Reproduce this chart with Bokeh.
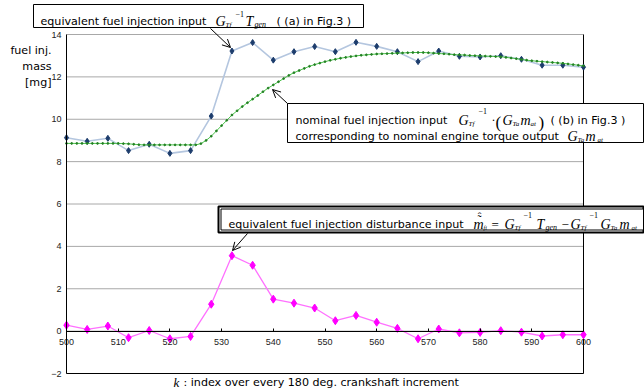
from bokeh.plotting import figure
from bokeh.models import Label, Arrow, OpenHead, BoxAnnotation, FixedTicker, Range1d
from bokeh.embed import file_html
from bokeh.resources import INLINE

# ---------------- data ----------------
k_sparse = list(range(500, 601, 4))
equiv_input = [9.13, 8.96, 9.10, 8.52, 8.82, 8.39, 8.52, 10.15, 13.22, 13.62, 12.79, 13.19, 13.43,
               13.19, 13.63, 13.44, 13.19, 12.72, 13.22, 12.97, 12.94, 13.00, 12.83, 12.55, 12.55, 12.46]
disturbance = [0.28, 0.08, 0.24, -0.31, 0.03, -0.36, -0.25, 1.27, 3.56, 3.11, 1.51, 1.32, 1.09,
               0.49, 0.74, 0.42, 0.13, -0.36, 0.10, -0.08, -0.06, 0.02, -0.05, -0.23, -0.17, -0.17]
k_dense = list(range(500, 601))
nominal_input = [8.86, 8.86, 8.86, 8.86, 8.86, 8.86, 8.86, 8.86, 8.86, 8.86,
                 8.86, 8.85, 8.84, 8.82, 8.80, 8.79, 8.79, 8.79, 8.79, 8.79,
                 8.79, 8.79, 8.79, 8.79, 8.79, 8.79, 8.85, 9.00, 9.20, 9.45,
                 9.70, 9.95, 10.20, 10.40, 10.60, 10.78, 10.95, 11.12, 11.30, 11.47,
                 11.62, 11.77, 11.92, 12.07, 12.20, 12.30, 12.40, 12.50, 12.58, 12.65,
                 12.72, 12.78, 12.83, 12.88, 12.92, 12.96, 12.99, 13.02, 13.04, 13.06,
                 13.08, 13.09, 13.10, 13.11, 13.12, 13.13, 13.14, 13.15, 13.15, 13.15,
                 13.14, 13.12, 13.10, 13.09, 13.07, 13.05, 13.04, 13.03, 13.01, 13.00,
                 12.99, 12.98, 12.97, 12.96, 12.95, 12.92, 12.89, 12.86, 12.82, 12.79,
                 12.76, 12.74, 12.72, 12.70, 12.68, 12.66, 12.64, 12.61, 12.58, 12.55,
                 12.52]
x_ticks = list(range(500, 601, 10))
y_ticks = list(range(-2, 15, 2))

# ---------------- layout ----------------
W, H = 644, 390
FL, FR, FT, FB = 66, 583, 34, 373      # plot area in canvas pixels
X0, X1, Y0, Y1 = 500, 600, -2, 14


def dx(px):
    return X0 + (px - FL) * (X1 - X0) / (FR - FL)


def dy(py):
    return Y1 - (py - FT) * (Y1 - Y0) / (FB - FT)


p = figure(width=W, height=H,
           x_range=Range1d(dx(0), dx(W)), y_range=Range1d(dy(H), dy(0)),
           output_backend="svg", toolbar_location=None,
           min_border=0, min_border_left=0, min_border_right=0,
           min_border_top=0, min_border_bottom=0)
p.title.visible = False
p.outline_line_color = None
p.background_fill_color = "white"
p.border_fill_color = "white"
p.xgrid.visible = False
p.ygrid.visible = False

# horizontal grid lines inside the plot area
p.segment(x0=[X0] * len(y_ticks), x1=[X1] * len(y_ticks), y0=y_ticks, y1=y_ticks,
          line_color="#a8a8a8", line_width=1)

p.yaxis.fixed_location = X0
p.yaxis.bounds = (Y0, Y1)
p.yaxis.ticker = FixedTicker(ticks=y_ticks)
p.yaxis.axis_line_color = "black"
p.yaxis.major_tick_out = 0
p.yaxis.major_tick_in = 0
p.yaxis.minor_tick_line_color = None
p.yaxis.major_label_standoff = 5
p.yaxis.major_label_text_font = "Liberation Sans"
p.yaxis.major_label_text_font_size = "9px"
p.yaxis.major_label_text_color = "#222222"

p.xaxis.fixed_location = 0
p.xaxis.bounds = (X0, X1)
p.xaxis.ticker = FixedTicker(ticks=x_ticks)
p.xaxis.axis_line_color = "black"
p.xaxis.major_tick_out = 0
p.xaxis.major_tick_in = 3
p.xaxis.major_tick_line_color = "black"
p.xaxis.minor_tick_line_color = None
p.xaxis.major_label_standoff = 8
p.xaxis.major_label_text_font = "Liberation Sans"
p.xaxis.major_label_text_font_size = "9px"
p.xaxis.major_label_text_color = "#222222"

# plot-area border (right and bottom black)
p.segment(x0=[X1, X0], x1=[X1, X1], y0=[Y0, Y0], y1=[Y1, Y0], line_color="black", line_width=1)

# ---------------- series ----------------
p.line(k_sparse, equiv_input, line_color="#b4c6df", line_width=1.6)
p.scatter(k_sparse, equiv_input, marker="diamond", size=6, color="#1c3c6c")

p.line(k_dense, nominal_input, line_color="#4cc44c", line_width=1)
p.scatter(k_dense, nominal_input, marker="circle", size=1.8, color="#228022")

p.line(k_sparse, disturbance, line_color="#ff70ff", line_width=1.3)
p.scatter(k_sparse, disturbance, marker="diamond", size=8, color="#ff00ff")

# ---------------- annotations ----------------
SANS = "DejaVu Sans"
SERIF = "Liberation Serif"
FS = 11.1


def box(l, t, r, b, lw=1):
    p.add_layout(BoxAnnotation(left=dx(l), right=dx(r), top=dy(t), bottom=dy(b),
                               fill_color="white", fill_alpha=1,
                               line_color="black", line_width=lw, line_alpha=1))


def txt(px, py, s, size=FS, font=SANS, style="normal", align="left", baseline="alphabetic"):
    p.add_layout(Label(x=dx(px), y=dy(py), text=s, text_font=font,
                       text_font_size=f"{size}px", text_font_style=style,
                       text_align=align, text_baseline=baseline, text_color="black"))


def arrow(x0, y0, x1, y1):
    p.add_layout(Arrow(end=OpenHead(size=8, line_width=1, line_color="black"),
                       x_start=dx(x0), y_start=dy(y0), x_end=dx(x1), y_end=dy(y1),
                       line_width=1, line_color="black"))


def it(px, py, s, size=14):
    txt(px, py, s, size=size, font=SERIF, style="italic")


# box 1
box(33, 4, 363, 27)
txt(40, 21, "equivalent fuel injection input")
it(215, 21, "G")
it(225, 24, "Tf", 7)
txt(235, 13, "\u22121", 8, font=SERIF)
it(245, 21, "T")
it(254, 24, "gen", 8)
txt(276, 21, "( (a) in Fig.3 )")
arrow(210, 28, 230, 47)

# box 2
box(287, 103, 643, 142)
txt(295, 120, "nominal fuel injection input")
it(458, 120, "G")
it(468, 123, "Tf", 7)
txt(478, 110, "\u22121", 8, font=SERIF)
txt(491, 119, "\u00b7", 12, font=SERIF)
txt(495, 122, "(", 17, font=SERIF)
it(502, 120, "G")
it(512, 123, "Ta", 7)
it(520, 120, "m")
it(530, 123, "at", 7)
txt(538, 122, ")", 17, font=SERIF)
txt(550, 120, "( (b) in Fig.3 )")
txt(295, 136, "corresponding to nominal engine torque output")
it(567, 136, "G")
it(577, 139, "Ta", 7)
it(585, 136, "m")
it(597, 139, "at", 7)
arrow(287, 103, 272, 89)

# box 3 (double border)
box(218, 206, 643, 232, lw=2)
box(220.5, 208.5, 643, 229.5, lw=1)
txt(228, 224, "equivalent fuel injection disturbance input")
it(473, 224, "m")
txt(479, 219, "\u02dc", 12, font=SERIF, align="center")
txt(479, 215, "\u02c6", 11, font=SERIF, align="center")
it(483, 227, "fi", 6)
txt(491, 224, "=", 13, font=SERIF)
it(504, 224, "G")
it(514, 227, "Tf", 7)
txt(523, 214, "\u22121", 8, font=SERIF)
it(536, 224, "T")
it(545, 227, "gen", 8)
txt(561, 224, "\u2212", 13, font=SERIF)
it(570, 224, "G")
it(580, 227, "Tf", 7)
txt(589, 214, "\u22121", 8, font=SERIF)
it(600, 224, "G")
it(610, 227, "Ta", 7)
it(619, 224, "m")
it(631, 227, "at", 7)
arrow(247, 233, 232, 250)

# axis titles
txt(51, 50, "fuel inj.", align="right")
txt(51, 66, "mass", align="right")
txt(51, 82, "[mg]", align="right")
it(173, 382, "k", 13)
txt(183, 382, " :  index over every 180 deg. crankshaft increment")

open("out.html", "w").write(file_html(p, INLINE))
